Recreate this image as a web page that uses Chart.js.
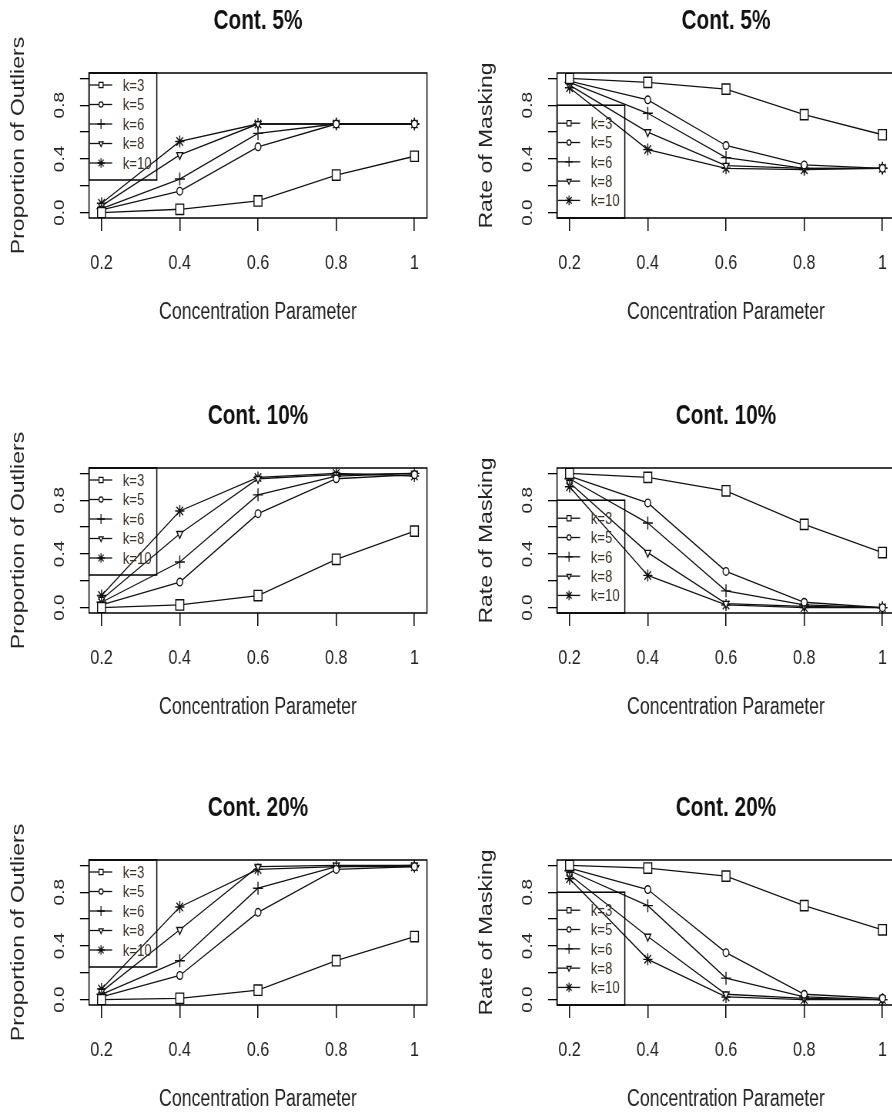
<!DOCTYPE html>
<html>
<head>
<meta charset="utf-8">
<script src="https://cdn.jsdelivr.net/npm/chart.js@4.4.0/dist/chart.umd.min.js"></script>
<style>
  html, body { margin: 0; padding: 0; background: #fff; overflow: hidden; width: 892px; height: 1115px; }
  /* the original figure is squeezed horizontally, so each panel is drawn wider and scaled back */
  canvas { position: absolute; transform: scaleX(0.77); transform-origin: 0 0; }
</style>
</head>
<body>
<canvas id="p1" width="580" height="328" style="left:0px;top:0px"></canvas>
<canvas id="p2" width="580" height="328" style="left:468px;top:0px"></canvas>
<canvas id="p3" width="580" height="328" style="left:0px;top:395px"></canvas>
<canvas id="p4" width="580" height="328" style="left:468px;top:395px"></canvas>
<canvas id="p5" width="580" height="328" style="left:0px;top:787px"></canvas>
<canvas id="p6" width="580" height="328" style="left:468px;top:787px"></canvas>
<script>
// x values and labels
var concentration = [0.2, 0.4, 0.6, 0.8, 1];
var kLabels = ['k=3', 'k=5', 'k=6', 'k=8', 'k=10'];
var xTicks = [0.2, 0.4, 0.6, 0.8, 1];
var xTickLabels = ['0.2', '0.4', '0.6', '0.8', '1'];
var yTicks = [0, 0.2, 0.4, 0.6, 0.8, 1];
var yTickLabels = ['0.0', '', '0.4', '', '0.8', ''];

// one row per k (3, 5, 6, 8, 10), one column per concentration
var outliers5 = [
  [0.00, 0.025, 0.087, 0.28, 0.42],
  [0.02, 0.16, 0.49, 0.66, 0.66],
  [0.03, 0.25, 0.59, 0.66, 0.66],
  [0.05, 0.43, 0.66, 0.66, 0.66],
  [0.07, 0.53, 0.66, 0.66, 0.66]
];
var masking5 = [
  [1.00, 0.97, 0.92, 0.73, 0.58],
  [0.98, 0.84, 0.50, 0.355, 0.33],
  [0.97, 0.74, 0.41, 0.33, 0.33],
  [0.95, 0.60, 0.35, 0.33, 0.33],
  [0.93, 0.47, 0.33, 0.32, 0.33]
];
var outliers10 = [
  [0.00, 0.02, 0.09, 0.36, 0.57],
  [0.02, 0.19, 0.70, 0.96, 0.99],
  [0.04, 0.34, 0.84, 0.98, 1.00],
  [0.06, 0.55, 0.96, 0.99, 1.00],
  [0.09, 0.72, 0.97, 1.00, 0.98]
];
var masking10 = [
  [1.00, 0.97, 0.87, 0.62, 0.41],
  [0.98, 0.78, 0.27, 0.04, 0.00],
  [0.96, 0.63, 0.125, 0.02, 0.00],
  [0.93, 0.41, 0.03, 0.01, 0.00],
  [0.90, 0.24, 0.02, 0.00, 0.00]
];
var outliers20 = [
  [0.00, 0.01, 0.07, 0.29, 0.47],
  [0.02, 0.18, 0.65, 0.97, 0.99],
  [0.04, 0.29, 0.83, 0.99, 1.00],
  [0.06, 0.52, 0.99, 1.00, 1.00],
  [0.08, 0.69, 0.97, 0.99, 0.99]
];
var masking20 = [
  [1.00, 0.98, 0.92, 0.70, 0.52],
  [0.98, 0.82, 0.35, 0.04, 0.01],
  [0.96, 0.70, 0.16, 0.02, 0.00],
  [0.93, 0.47, 0.04, 0.01, 0.00],
  [0.90, 0.30, 0.02, 0.00, 0.00]
];

var FONT = "'Liberation Sans', Arial, sans-serif";
var pointStyles = ['rect', 'circle', 'cross', 'triangle', 'star'];
var pointSizes = [7.3, 3.8, 6.5, 4.5, 6];
var pointTurns = [0, 0, 0, 180, 0];
var legendSizes = [3.8, 2.6, 5, 3.2, 4.8];

// box around the plot region, like R's box()
var frame = {
  id: 'frame',
  afterDraw: function (chart) {
    var a = chart.chartArea, ctx = chart.ctx;
    ctx.save();
    ctx.strokeStyle = '#000';
    ctx.lineWidth = 1.5;
    ctx.strokeRect(a.left, a.top, a.right - a.left, a.bottom - a.top);
    ctx.restore();
  }
};

// legend drawn inside the plot area with a border
var boxLegend = {
  id: 'boxLegend',
  afterDatasetsDraw: function (chart, args, opts) {
    var a = chart.chartArea, ctx = chart.ctx;
    var top, first, step, height;
    if (opts.atValue == null) {
      top = a.top; first = 12; step = 19.5; height = 107;
    } else {
      top = chart.scales.y.getPixelForValue(opts.atValue); first = 18; step = 19.3; height = a.bottom - top;
    }
    ctx.save();
    ctx.strokeStyle = '#000';
    ctx.lineWidth = 1.5;
    ctx.strokeRect(a.left, top, 88, height);
    chart.data.datasets.forEach(function (ds, i) {
      var y = top + first + step * i;
      ctx.strokeStyle = '#111';
      ctx.lineWidth = 1.3;
      ctx.beginPath();
      ctx.moveTo(a.left + 1, y);
      ctx.lineTo(a.left + 30, y);
      ctx.stroke();
      ctx.fillStyle = (i < 2 || i === 3) ? '#fff' : '#111';
      Chart.helpers.drawPoint(ctx, { pointStyle: ds.pointStyle, radius: legendSizes[i], rotation: pointTurns[i], borderWidth: 1.3 }, a.left + 15.6, y);
      ctx.fillStyle = '#3b3026';
      ctx.font = '17px ' + FONT;
      ctx.textAlign = 'left';
      ctx.textBaseline = 'middle';
      ctx.fillText(ds.label, a.left + 44, y + 1);
    });
    ctx.restore();
  }
};

function dibujaPanel(id, titulo, yTitulo, valores, legendAt) {
  var datasets = valores.map(function (serie, i) {
    return {
      label: kLabels[i],
      data: concentration.map(function (x, j) { return { x: x, y: serie[j] }; }),
      showLine: true,
      borderColor: '#111',
      borderWidth: 1.3,
      pointStyle: pointStyles[i],
      pointRadius: pointSizes[i],
      pointRotation: pointTurns[i],
      pointBorderColor: '#111',
      pointBackgroundColor: (i < 2 || i === 3) ? '#fff' : '#111',
      pointBorderWidth: 1.4,
      tension: 0
    };
  });

  new Chart(document.getElementById(id), {
    type: 'scatter',
    data: { datasets: datasets },
    options: {
      responsive: false,
      animation: false,
      devicePixelRatio: 1,
      layout: { padding: { left: 0, right: 25.5, top: 0, bottom: 0 } },
      plugins: {
        legend: { display: false },
        tooltip: { enabled: false },
        title: {
          display: true,
          fullSize: false,
          text: titulo,
          color: '#111',
          font: { family: FONT, size: 27, weight: 'bold' },
          padding: { top: 5.8, bottom: 34.8 }
        },
        boxLegend: { atValue: legendAt }
      },
      scales: {
        x: {
          type: 'linear',
          min: 0.168,
          max: 1.032,
          afterBuildTicks: function (s) { s.ticks = xTicks.map(function (v) { return { value: v }; }); },
          afterFit: function (s) { s.height = 110; },
          grid: { drawOnChartArea: false, drawTicks: true, tickLength: 13, color: '#000', lineWidth: 1.5 },
          border: { display: false },
          ticks: {
            autoSkip: false,
            maxRotation: 0,
            padding: 20,
            color: '#222',
            font: { family: FONT, size: 21 },
            callback: function (v) { return xTickLabels[xTicks.indexOf(v)]; }
          },
          title: {
            display: true,
            text: 'Concentration Parameter',
            color: '#222',
            font: { family: FONT, size: 23 },
            padding: { top: 0, bottom: 1.2 }
          }
        },
        y: {
          type: 'linear',
          min: -0.04,
          max: 1.04,
          afterBuildTicks: function (s) { s.ticks = yTicks.map(function (v) { return { value: v }; }); },
          afterFit: function (s) { s.width = 115.6; },
          grid: { drawOnChartArea: false, drawTicks: true, tickLength: 11.7, color: '#000', lineWidth: 1.3 },
          border: { display: false },
          ticks: {
            autoSkip: false,
            minRotation: 90,
            maxRotation: 90,
            crossAlign: 'center',
            padding: 12.8,
            color: '#222',
            font: { family: FONT, size: 19 },
            callback: function (v) { return yTickLabels[yTicks.indexOf(v)]; }
          },
          title: {
            display: true,
            text: yTitulo,
            color: '#222',
            font: { family: FONT, size: 23 },
            padding: { top: 11, bottom: 0 }
          }
        }
      }
    },
    plugins: [frame, boxLegend]
  });
}

dibujaPanel('p1', 'Cont. 5%', 'Proportion of Outliers', outliers5, null);
dibujaPanel('p2', 'Cont. 5%', 'Rate of Masking', masking5, 0.8);
dibujaPanel('p3', 'Cont. 10%', 'Proportion of Outliers', outliers10, null);
dibujaPanel('p4', 'Cont. 10%', 'Rate of Masking', masking10, 0.8);
dibujaPanel('p5', 'Cont. 20%', 'Proportion of Outliers', outliers20, null);
dibujaPanel('p6', 'Cont. 20%', 'Rate of Masking', masking20, 0.8);
</script>
</body>
</html>
